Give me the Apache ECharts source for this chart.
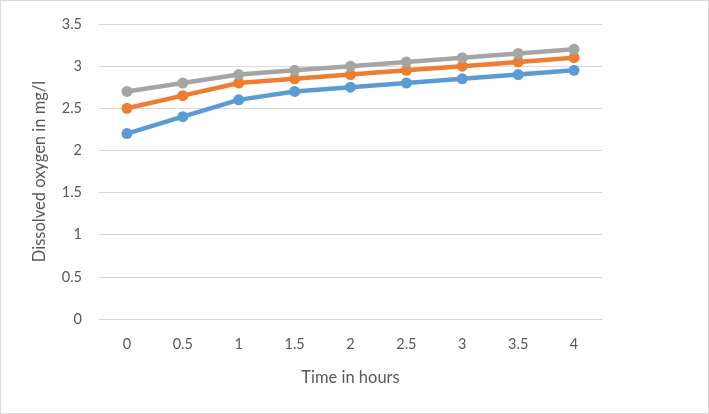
<!DOCTYPE html>
<html><head><meta charset="utf-8">
<script src="https://cdn.jsdelivr.net/npm/echarts@6/dist/echarts.min.js"></script>
<style>html,body{margin:0;padding:0;background:#fff}#c{width:709px;height:414px;box-sizing:border-box;border:1px solid #d9d9d9}</style>
</head><body><div id="c"></div>
<script>
const categories = ['0','0.5','1','1.5','2','2.5','3','3.5','4'];
const seriesBlue = [2.2,2.4,2.6,2.7,2.75,2.8,2.85,2.9,2.95];
const seriesOrange = [2.5,2.65,2.8,2.85,2.9,2.95,3.0,3.05,3.1];
const seriesGray = [2.7,2.8,2.9,2.95,3.0,3.05,3.1,3.15,3.2];
const xTitle = 'Time in hours';
const yTitle = 'Dissolved oxygen in mg/l';
const chart = echarts.init(document.getElementById('c'));
const font = 'Lato, "Open Sans", sans-serif';
function s(data,color){return {type:'line',data:data,symbol:'circle',symbolSize:11,lineStyle:{width:4.5,color:color},itemStyle:{color:color},z:2};}
chart.setOption({
  animation:false,
  grid:{left:98,right:106,top:23,bottom:94},
  xAxis:{type:'category',data:categories,boundaryGap:true,
    axisLine:{lineStyle:{color:'#d9d9d9'}},axisTick:{show:false},
    axisLabel:{color:'#595959',fontSize:14.5,fontFamily:font,margin:18},
    name:xTitle,nameLocation:'middle',nameGap:50,
    nameTextStyle:{color:'#595959',fontSize:16.5,fontFamily:font}},
  yAxis:{type:'value',min:0,max:3.5,interval:0.5,
    axisLine:{show:false},axisTick:{show:false},
    splitLine:{lineStyle:{color:'#d9d9d9'}},
    axisLabel:{color:'#595959',fontSize:14.5,fontFamily:font,margin:17},
    name:yTitle,nameLocation:'middle',nameGap:51,
    nameTextStyle:{color:'#595959',fontSize:16.5,fontFamily:font}},
  series:[s(seriesBlue,'#5b9bd5'),s(seriesOrange,'#ed7d31'),s(seriesGray,'#a5a5a5')]
});
</script></body></html>
